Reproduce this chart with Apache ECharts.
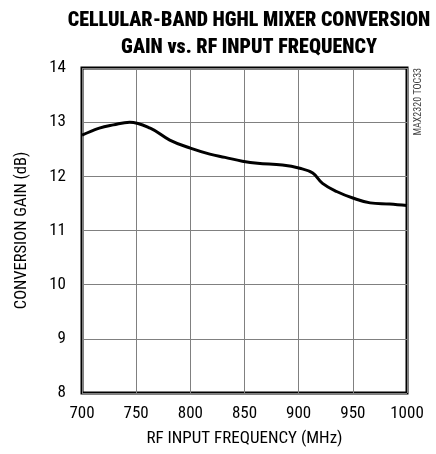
<!DOCTYPE html>
<html><head><meta charset="utf-8">
<script src="https://cdn.jsdelivr.net/npm/echarts@6/dist/echarts.min.js"></script>
<style>html,body{margin:0;padding:0;background:#fff}#c{width:436px;height:454px}</style>
</head><body><div id="c"></div>
<script>
const freq = [700, 716, 729, 744, 763, 781, 800, 818, 832, 848, 862, 885, 901, 913, 922, 935, 950, 966, 984, 1000];
const gain = [12.76, 12.89, 12.95, 13.0, 12.89, 12.67, 12.52, 12.41, 12.35, 12.28, 12.24, 12.21, 12.15, 12.06, 11.87, 11.72, 11.60, 11.51, 11.49, 11.46];
const xTicks = [700, 750, 800, 850, 900, 950, 1000];
const yTicks = [8, 9, 10, 11, 12, 13, 14];

const chart = echarts.init(document.getElementById('c'), null, {renderer: 'canvas'});
const FN = '"Roboto Condensed", "Liberation Sans", sans-serif';
chart.setOption({
  animation: false,
  title: {
    text: 'CELLULAR-BAND HGHL MIXER CONVERSION\nGAIN vs. RF INPUT FREQUENCY',
    left: 244, top: 2, textAlign: 'center',
    textStyle: {fontFamily: FN, fontWeight: 900, fontSize: 20, lineHeight: 27, color: '#000'}
  },
  grid: {left: 82, right: 29, top: 68, bottom: 61, show: true, borderColor: '#000', borderWidth: 3, backgroundColor: 'transparent'},
  xAxis: {
    type: 'value', min: 700, max: 1000, interval: 50,
    name: 'RF INPUT FREQUENCY (MHz)', nameLocation: 'middle', nameGap: 37,
    nameTextStyle: {fontFamily: FN, fontSize: 17, color: '#000'},
    axisLine: {show: false}, axisTick: {show: false},
    axisLabel: {fontFamily: FN, fontSize: 17, color: '#000', margin: 12, formatter: v => String(v)},
    splitLine: {show: true, lineStyle: {color: '#808080', width: 1}}
  },
  yAxis: {
    type: 'value', min: 8, max: 14, interval: 1,
    name: 'CONVERSION GAIN (dB)', nameLocation: 'middle', nameGap: 52,
    nameTextStyle: {fontFamily: FN, fontSize: 16.5, color: '#000'},
    axisLine: {show: false}, axisTick: {show: false},
    axisLabel: {fontFamily: FN, fontSize: 17, color: '#000', margin: 16, formatter: v => String(v)},
    splitLine: {show: true, lineStyle: {color: '#808080', width: 1}}
  },
  graphic: [{
    type: 'text', left: 413, top: 68, rotation: Math.PI / 2,
    style: {text: 'MAX2320 TOC33', fontFamily: FN, fontSize: 10, fill: '#444'}
  }],
  series: [{
    type: 'line', data: freq.map((f, i) => [f, gain[i]]),
    smooth: 0.4, showSymbol: false, symbol: 'none',
    lineStyle: {color: '#000', width: 3}
  }]
});
</script></body></html>
